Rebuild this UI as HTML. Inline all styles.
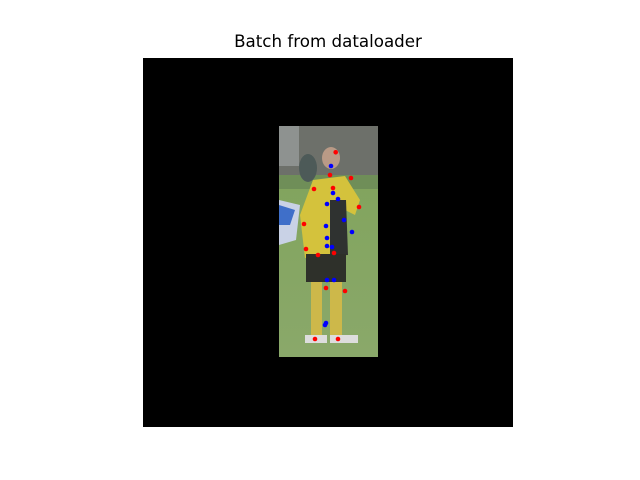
<!DOCTYPE html>
<html><head><meta charset="utf-8"><style>
html,body{margin:0;padding:0;background:#fff;}
#wrap{position:relative;width:640px;height:480px;}
#title{position:absolute;left:0;width:656px;top:31px;text-align:center;font:16.7px "DejaVu Sans","Liberation Sans",sans-serif;color:#000;}
svg{position:absolute;left:0;top:0;}
</style></head><body>
<div id="wrap">
<div id="title">Batch from dataloader</div>
<svg id="s" width="640" height="480">
<defs>
<linearGradient id="grass" x1="0" y1="0" x2="0" y2="1"><stop offset="0" stop-color="#7fa35a"/><stop offset="1" stop-color="#8aa86a"/></linearGradient>
</defs>
<rect x="143" y="58" width="370" height="369" fill="#000"/>
<g>
<rect x="279" y="126" width="99" height="231" fill="url(#grass)"/>
<rect x="279" y="126" width="99" height="62" fill="#6d706a"/>
<rect x="279" y="126" width="20" height="40" fill="#8e9290"/>
<rect x="279" y="175" width="99" height="14" fill="#6f8e58"/>
<path d="M279 200 L300 205 L296 240 L279 245 Z" fill="#c9d2e6"/>
<path d="M279 205 L295 210 L290 225 L279 225 Z" fill="#3f6fc9"/>
<ellipse cx="308" cy="168" rx="9" ry="14" fill="#4d5a58"/>
<ellipse cx="331" cy="158" rx="9" ry="11" fill="#b99a86"/>
<path d="M313 180 L345 176 L360 200 L355 215 L345 210 L348 255 L305 258 L300 215 Z" fill="#d4c23c"/>
<path d="M330 200 L346 200 L348 255 L330 256 Z" fill="#2f3230"/>
<rect x="306" y="254" width="40" height="28" fill="#2e302a"/>
<rect x="311" y="282" width="11" height="55" fill="#cdb84a"/>
<rect x="330" y="282" width="12" height="55" fill="#cdb84a"/>
<rect x="305" y="335" width="22" height="8" fill="#ddd"/>
<rect x="330" y="335" width="28" height="8" fill="#ddd"/>
</g>
<g id="pts"></g>
</svg>
</div>
<script>
// keypoint coordinates in image pixel units (origin = top-left of padded image, 370px wide)
const redX=[192.7,187,208,171,190,216,161,163,175,191,183,202,172,195];
const redY=[94.3,117,120,131,130,149,166,191,197,195,230,233,281,281];
const blueX=[188,190,195,184,201,183,209,184,184,189,184,191,183,182];
const blueY=[108,135,141,146,162,168,174,180,188,189,222,222,265,267];
const x0=143,y0=58;
function sx(v){return x0+v;}
function sy(v){return y0+v;}
const g=document.getElementById('pts');
const NS='http://www.w3.org/2000/svg';
function draw(xs,ys,col,name){
  for(let i=0;i<xs.length;i++){
    const c=document.createElementNS(NS,'circle');
    c.setAttribute('cx',sx(xs[i]));c.setAttribute('cy',sy(ys[i]));
    c.setAttribute('r',2.3);c.setAttribute('fill',col);
    
    
    g.appendChild(c);
  }
}
draw(redX,redY,'#ff0000','red-keypoint');
draw(blueX,blueY,'#0000ff','blue-keypoint');
</script>
</body></html>
